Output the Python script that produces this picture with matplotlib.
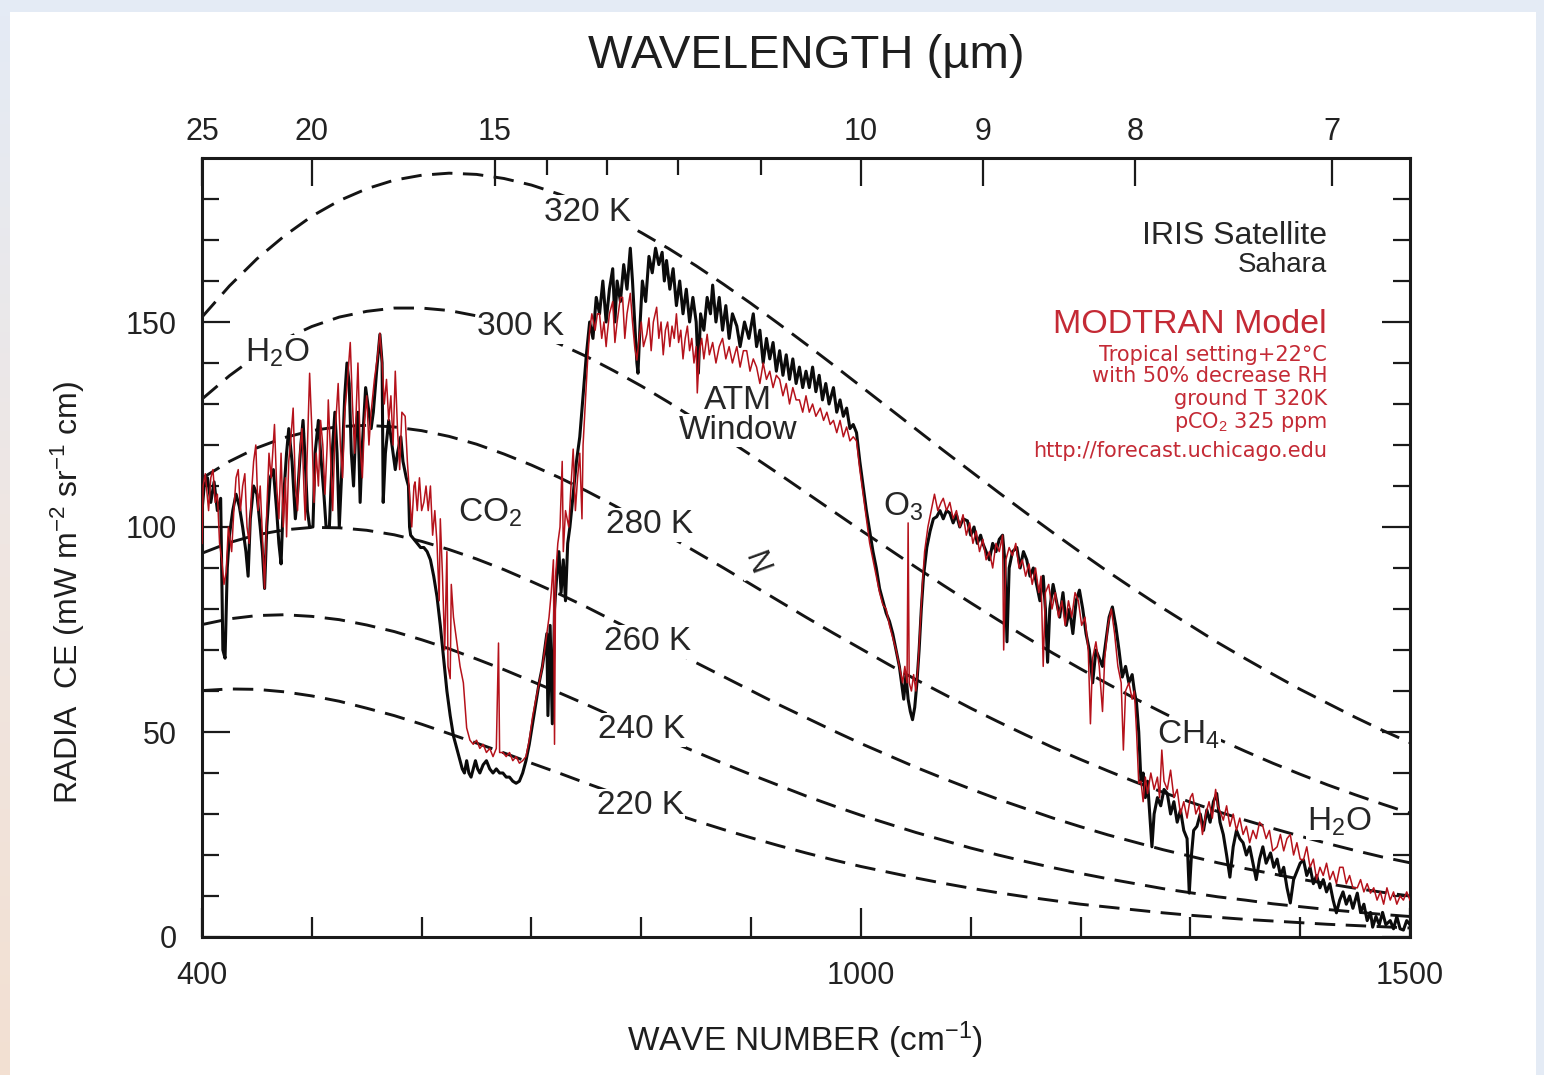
import numpy as np
import matplotlib
matplotlib.use('Agg')
import matplotlib.pyplot as plt
from matplotlib.patches import Rectangle
from matplotlib.colors import LinearSegmentedColormap

plt.rcParams['font.family'] = ['Liberation Sans', 'DejaVu Sans']
plt.rcParams['mathtext.fontset'] = 'custom'
plt.rcParams['mathtext.rm'] = 'Liberation Sans'
plt.rcParams['mathtext.it'] = 'Liberation Sans:italic'
plt.rcParams['mathtext.bf'] = 'Liberation Sans:bold'

# ---------------- data ----------------
planck_wn = list(range(400, 1501, 25))
planck_220 = [60.1,60.5,60.4,59.8,58.8,57.5,55.8,54.0,51.9,49.6,47.3,44.9,42.4,40.0,37.5,35.1,32.8,30.5,28.3,26.2,24.2,22.3,20.5,18.8,17.2,15.8,14.4,13.1,11.9,10.8,9.8,8.9,8.0,7.3,6.6,5.9,5.3,4.8,4.3,3.9,3.5,3.1,2.8,2.5,2.2]
planck_240 = [76.2,77.6,78.4,78.6,78.2,77.4,76.1,74.5,72.5,70.3,67.8,65.2,62.4,59.6,56.7,53.7,50.8,47.9,45.1,42.3,39.6,37.0,34.4,32.0,29.7,27.6,25.5,23.6,21.7,20.0,18.4,16.9,15.5,14.2,13.0,11.8,10.8,9.8,9.0,8.1,7.4,6.7,6.1,5.5,5.0]
planck_260 = [93.6,96.2,98.1,99.3,99.9,99.8,99.2,98.1,96.5,94.5,92.2,89.6,86.7,83.7,80.5,77.1,73.8,70.3,66.9,63.5,60.1,56.7,53.5,50.3,47.2,44.3,41.4,38.7,36.1,33.6,31.3,29.0,26.9,24.9,23.1,21.3,19.7,18.1,16.7,15.4,14.1,13.0,11.9,10.9,10.0]
planck_280 = [111.9,116.0,119.3,121.8,123.5,124.5,124.8,124.4,123.5,122.1,120.2,117.8,115.1,112.1,108.8,105.3,101.6,97.8,93.9,90.0,86.0,82.0,78.0,74.1,70.3,66.5,62.8,59.3,55.8,52.5,49.3,46.2,43.3,40.5,37.8,35.3,32.9,30.6,28.5,26.5,24.6,22.8,21.1,19.5,18.1]
planck_300 = [131.2,136.9,141.8,145.8,148.9,151.2,152.6,153.4,153.4,152.8,151.5,149.7,147.4,144.7,141.6,138.1,134.4,130.4,126.2,121.9,117.5,113.0,108.4,103.8,99.2,94.7,90.2,85.8,81.5,77.3,73.2,69.2,65.4,61.7,58.1,54.7,51.4,48.3,45.3,42.4,39.7,37.1,34.7,32.4,30.2]
planck_320 = [151.2,158.8,165.4,171.0,175.8,179.6,182.5,184.6,185.8,186.3,186.0,185.0,183.4,181.2,178.6,175.4,171.8,167.9,163.7,159.2,154.5,149.6,144.6,139.5,134.3,129.1,123.9,118.7,113.6,108.5,103.5,98.6,93.8,89.1,84.6,80.2,76.0,71.8,67.9,64.1,60.4,57.0,53.6,50.4,47.4]
temps = [220, 240, 260, 280, 300, 320]

iris_wn = [400,402,405,408,411,414,417,419,421,423,425,428,431,434,437,440,442,444,447,450,453,455,457,459,462,465,468,470,472,474,477,479,482,485,487,490,492,494,496,498,501,503,506,508,511,513,516,519,521,523,525,527,530,532,534,536,538,540,542,544,546,549,551,554,556,559,562,564,565,567,570,573,576,578,581,583,586,588,589,
           590,593,596,599,602,605,608,611,614,617,620,623,626,629,632,635,637,639,641,643,645,647,649,651,653,656,659,662,665,668,671,674,677,680,683,686,689,692,695,698,701,704,707,710,712,714,715,717,719,721,723,725,727,729,731,733,735,738,741,744,747,750,753,
           756,759,762,765,768,771,774,776,778,781,784,787,790,792,794,796,797,799,801,804,807,810,813,816,819,821,823,826,829,832,835,838,841,844,847,850,852,854,857,860,863,865,868,871,874,877,880,883,887,890,894,898,902,905,908,911,914,917,920,923,926,929,932,935,938,941,944,947,950,953,956,959,962,965,968,971,975,978,981,984,987,990,993,996,999,
           1002,1005,1008,1011,1014,1017,1020,1023,1026,1029,1032,1035,1037,1039,1041,1043,1045,1047,1049,1051,1053,1055,1057,1060,1063,1066,1069,1072,1075,1078,1081,1084,1087,1090,1093,1097,1100,1103,1106,1109,1111,1114,1117,1120,1123,1126,1129,1131,1133,1135,1138,1142,1145,1148,1151,1154,1157,1160,1163,1166,1168,1170,1172,1175,1178,1181,1184,1187,1190,1193,1196,1199,1202,1205,1208,1211,1214,1217,1220,1223,1226,1229,1232,1235,1238,1241,1244,1247,1249,1251,1253,1255,
           1257,1259,1261,1263,1265,1267,1270,1273,1276,1279,1282,1285,1288,1291,1294,1297,1299,1301,1303,1306,1309,1312,1315,1318,1321,1324,1327,1330,1333,1336,1339,1342,1345,1348,1351,1354,1357,1360,1363,1366,1369,1373,1376,1379,1382,1385,1388,1391,1394,1397,1400,1403,1406,1409,1412,1415,1418,1421,1424,1427,1430,1433,1436,1439,1442,1445,1448,1452,1455,1458,1461,1464,1466,1469,1472,1475,1478,1482,1485,1488,1491,1494,1497,1500]
iris_val = [104,110,112,106,111,104,107,70,68,90,98,104,108,105,100,94,88,102,110,108,100,94,85,100,112,114,104,96,91,106,118,124,116,102,108,120,126,116,104,100,100,118,126,118,108,100,100,120,128,118,100,112,132,140,135,118,110,124,128,106,120,134,130,124,128,138,147,140,106,118,126,120,114,118,122,116,112,110,100,
            98,97,96,95,95,94,92,88,83,76,68,60,54,49,46,43,41,40,43,40,39,41,43,41,40,42,43,41,40,41,40,40,39,39,38,37.5,38,40,43,47,52,57,62,66,70,74,54,76,52,80,88,94,84,92,82,96,100,108,116,122,132,142,150,
            146,156,152,160,150,158,163,150,160,155,164,158,168,160,150,140,137.5,150,160,155,166,162,168,164,167,160,165,158,163,154,160,152,158,150,156,150,137.5,152,148,156,152,159,150,156,148,154,146,152,149,144,150,146,152,144,148,140,146,141,145,138,143,137,142,136,141,135,139,134,138,134,139,133,137,131,135,130,134,128,131,127,129,124,125,123,116,
            110,104,99,94,90,85,82,79,77,74,70,66,62,58,64,58,55,53,56,62,70,80,88,95,99,102,102.5,104,102,104,103.4,101,103,100,102,101.5,98,100,96,98,96,94,92,96,94,97,98,92,72,90,94,95,90,94,92,88,90,86,82,88,80,67,80,86,82,78,84,76,80,74,82,84.6,80,74,70,62,70,68,66,72,78,80.5,76,70,63.4,66,62,64,60,57,50,38,
            40,34,38,30,22,30,34,32,36,35,30,33,28,31,26,24,10.7,20,26,27,30,26,31,28,33,35,28,25,20,14.6,22,26,24,23,20,22,18,14,19,22,18,20.5,17,19,15,17,12,8.3,14,16,18,18.8,15,17,13,15,12,14,11,13,9,5.9,9,11,8,10,7,10.7,6,8,4,6,2.4,5,3,6,3,4,2,5,2,1.7,4,3]

modtran_wn = [400,401,403,406,408,410,412,414,416,418,420,422,424,427,429,431,433,435,437,439,441,443,445,447,449,451,453,455,457,459,461,463,466,468,470,472,474,476,477,479,481,483,485,487,489,491,493,494,496,498,500,502,504,506,508,510,512,514,515,517,519,521,524,526,528,530,532,535,537,539,542,544,546,548,550,552,554,557,560,562,564,566,568,570,572,574,576,578,580,582,585,587,589,591,593,594,596,598,600,602,604,606,608,610,612,
              614,616,617,619,621,623,624,626,627,629,632,635,638,641,644,647,650,653,656,659,662,665,668,670,671,674,677,680,683,686,689,692,695,698,701,704,707,710,713,716,718,720,721,722,724,726,728,729,731,734,736,738,740,742,744,746,747,749,751,753,
              755,758,760,762,764,766,768,769,771,774,776,778,781,783,785,787,790,792,794,796,798,800,802,805,807,809,811,814,816,818,820,822,824,826,828,830,832,834,836,838,840,842,844,846,848,850,851,853,855,857,860,862,865,868,871,874,877,880,883,887,890,893,896,899,902,905,908,911,914,917,920,923,926,929,932,935,938,941,944,947,950,953,956,959,963,966,969,972,975,978,981,984,987,990,993,996,999,
              1002,1005,1008,1011,1014,1017,1020,1023,1026,1029,1032,1035,1038,1040,1042,1043,1044,1046,1048,1050,1052,1054,1056,1058,1061,1064,1067,1070,1073,1075,1078,1081,1084,1087,1090,1093,1096,1099,1102,1105,1108,1111,1114,1117,1120,1123,1126,1129,1130,1132,1135,1138,1141,1144,1147,1150,1153,1156,1159,1162,1164,1166,1168,1171,1174,1177,1180,1183,1186,1189,1192,1195,1198,1201,1204,1207,1209,1211,1214,1217,1220,1222,1225,1228,1231,1234,1237,1239,1241,1244,1247,1249,1251,1253,
              1255,1257,1259,1261,1264,1267,1270,1272,1274,1276,1279,1282,1285,1288,1291,1294,1297,1300,1302,1305,1308,1311,1314,1317,1320,1323,1325,1328,1330,1333,1336,1339,1342,1345,1348,1351,1354,1357,1360,1363,1366,1369,1372,1375,1379,1382,1385,1388,1391,1394,1397,1400,1403,1406,1409,1412,1415,1418,1421,1424,1427,1430,1433,1436,1439,1442,1445,1448,1452,1455,1458,1461,1464,1467,1470,1473,1476,1479,1482,1485,1488,1491,1494,1497,1500]
modtran_val = [96,110,113,104,112,114,106,108,96,92,86,89,100,94,104,112,114,104,110,113,100,96,108,116,120,104,110,98,85,104,118,112,125,110,102,118,100,112,97.6,116,122,129,110,104,118,124,108,101.7,120,137.5,124,106,118,110,126,120,108,120,131,118,104,122,135,120,112,128,134,145,130,118,140,120,112,126,132,120,128,136,142,147.3,140,130,136,126,132,120,138,124,114,128,127,116,108,100,110,111,104,112,104,106,110,104,110,98,104,
               96,82,102,88,70,94,66,63,86,78,72,66,62,51,48,47,48,46,47,45,46,44,46,71.7,45,45,44,45,43,44,42.4,43,44,48,53.7,58,62,66,72,78,84,92,47,88,96,100,116,94,104,100,110,119,104,112,118,102,120,130,140,148,
               152,148,152,152,146,150,144,147,152,155,145,150,156,156,146,152,157,150,144,140.7,146,150,144,147,151,143,150,153.6,146,150,142,148,150,144,149,146,152,145,148,141,146,149,143,146,140,144,132.7,143,146,141,147,142,145,140,144,146,141,144,140,144,139,143,143,138,141,139,135,140,136,138,134,137,136,132,135,130,134,131,131,128,132,128,130,127,129,126,128,125,126,123,126,122,124.4,121,122,121,114,
               108,102,96,92,88,84,81,80,76,73,70,66,62,66,62,101,62,60,64,60,66,76,86,94,100,104,108,104,106,107,104,106,102,104,100,103,98,101,96,99,94,97,92,94,90,96,94,98,70,92,95,93,96,90,92,88,91,86,90,84,88,66,84,86,80,84,78,82,76,82,78,84,82,76,78,70,52,68,72,66,55,68,76,80,74,66,62,45.6,60,62,58,60,50,37.5,
               38,33,39,35,40,36,39,34,45.6,38,36,40.7,34,36,30,33,29,34,35,30,32,25,30,33,29,36,32,30,28.5,32,27,30,26,29,25,27,23,26,24,28,27,24,26,21,22,25,21,24,25,20,23,19,18.8,22,17,19,14,17,15,18,14,16,13,17,17,13,15,12,12,14,11,13,10.7,12,9,11,8,12,9,11,8,10,9,11,9]

wl_major = [25, 20, 15, 10, 9, 8, 7]
wl_minor = [14, 13, 12, 11]
wn_major = [400, 1000, 1500]
wn_minor = [500, 600, 700, 800, 900, 1100, 1200, 1300, 1400]
y_major = [0, 50, 100, 150]
y_minor = [10, 20, 30, 40, 60, 70, 80, 90, 110, 120, 130, 140, 160, 170, 180]

# ---------------- figure ----------------
W, H = 1544, 1075
fig = plt.figure(figsize=(W / 100, H / 100), dpi=100, facecolor='#e4ebf5')
fig.patches.append(Rectangle((10 / W, 0), (W - 18) / W, (H - 12) / H, transform=fig.transFigure,
                             facecolor='white', edgecolor='none', zorder=-10))
gax = fig.add_axes([0, 0, 10 / W, (H - 12) / H], zorder=-5)
gax.axis('off')
cmap = LinearSegmentedColormap.from_list('g', ['#f3e0d2', '#efe6e2', '#e4ebf5'])
gax.imshow(np.linspace(0, 1, 256)[:, None], aspect='auto', cmap=cmap, origin='lower')

ax = fig.add_axes([202 / W, 1 - 937 / H, (1410 - 202) / W, (937 - 158) / H], zorder=1)
ax.set_xlim(400, 1500)
ax.set_ylim(0, 190)
ax.set_facecolor('white')

planck = {220: planck_220, 240: planck_240, 260: planck_260, 280: planck_280, 300: planck_300, 320: planck_320}
for T in temps:
    ax.plot(planck_wn, planck[T], color='#141414', lw=2.1, dashes=(7, 3.6), zorder=2)

ax.plot(iris_wn, iris_val, color='#0b0b0b', lw=2.2, zorder=3)
ax.plot(modtran_wn, modtran_val, color='#b5121b', lw=1.1, zorder=4)

# ticks
for s in ax.spines.values():
    s.set_linewidth(2.2)
    s.set_color('#1a1a1a')
ax.set_xticks(wn_major)
ax.set_xticklabels([str(v) for v in wn_major])
ax.set_xticks(wn_minor, minor=True)
ax.set_yticks(y_major)
ax.set_yticklabels([str(v) for v in y_major])
ax.set_yticks(y_minor, minor=True)
ax.tick_params(which='both', direction='in', right=True, top=False, width=1.6, color='#1a1a1a',
               labelsize=22, labelcolor='#222222')
ax.tick_params(axis='x', which='major', length=21, pad=17)
ax.tick_params(axis='x', which='minor', length=14.5)
ax.tick_params(axis='y', which='major', length=20, pad=18)
ax.tick_params(axis='y', which='minor', length=12.5)

ax2 = ax.twiny()
ax2.set_xlim(400, 1500)
ax2.set_xticks([1e4 / l for l in wl_major])
ax2.set_xticklabels([str(l) for l in wl_major])
ax2.set_xticks([1e4 / l for l in wl_minor], minor=True)
ax2.tick_params(which='both', direction='in', width=1.6, color='#1a1a1a', labelsize=22,
                labelcolor='#222222', pad=8)
ax2.tick_params(which='major', length=20)
ax2.tick_params(which='minor', length=12.5)
for s in ax2.spines.values():
    s.set_visible(False)

# labels (white boxes break the dashed curves, but sit below the spectra)
tc = '#262626'
bb = dict(facecolor='white', edgecolor='none', pad=1.0)
lz = 2.5
temp_label_pos = {320: (751, 176.8), 300: (690, 148.8), 280: (808, 100.5),
                  260: (806, 72), 240: (800, 50.5), 220: (799, 32)}
for T, (x, y) in temp_label_pos.items():
    ax.text(x, y, f'{T} K', fontsize=24, color=tc, ha='center', va='center', bbox=bb, zorder=lz)

ax.text(469, 142.5, 'H$_2$O', fontsize=24, color=tc, ha='center', va='center', bbox=bb, zorder=lz)
ax.text(662, 103.4, 'CO$_2$', fontsize=24, color=tc, ha='center', va='center', bbox=bb, zorder=lz)
ax.text(888, 130.8, 'ATM', fontsize=24, color=tc, ha='center', va='center', bbox=bb, zorder=lz)
ax.text(888, 123.5, 'Window', fontsize=24, color=tc, ha='center', va='center', bbox=bb, zorder=lz)
ax.text(904, 91, 'N', fontsize=22, color=tc, ha='center', va='center', rotation=-70, bbox=bb, zorder=lz)
ax.text(1038, 105, 'O$_3$', fontsize=24, color=tc, ha='center', va='center', zorder=lz)
ax.text(1298, 49.3, 'CH$_4$', fontsize=24, color=tc, ha='center', va='center', bbox=bb, zorder=lz)
ax.text(1436, 28, 'H$_2$O', fontsize=24, color=tc, ha='center', va='center', bbox=bb, zorder=lz)

ax.text(1424.5, 171, 'IRIS Satellite', fontsize=23, color=tc, ha='right', va='center', zorder=5)
ax.text(1424.5, 164, 'Sahara', fontsize=20, color=tc, ha='right', va='center', zorder=5)
rc = '#c42a35'
ax.text(1424.5, 149.3, 'MODTRAN Model', fontsize=24.5, color=rc, ha='right', va='center', zorder=5)
small = ['Tropical setting+22°C', 'with 50% decrease RH', 'ground T 320K', 'pCO$_2$ 325 ppm',
         'http://forecast.uchicago.edu']
small_y = [142.0, 136.8, 131.3, 125.7, 118.6]
for s, y in zip(small, small_y):
    ax.text(1424.5, y, s, fontsize=15, family=['DejaVu Sans'], color=rc, ha='right', va='center', zorder=5)

fig.text(806 / W, 1 - 56 / H, 'WAVELENGTH (µm)', fontsize=34, color='#1e1e1e', ha='center', va='center')
fig.text(805 / W, 1 - 1040 / H, 'WAVE NUMBER (cm$^{-1}$)', fontsize=24, color='#1e1e1e', ha='center', va='center')
fig.text(68 / W, 1 - 592 / H, 'RADIA  CE (mW m$^{-2}$ sr$^{-1}$ cm)', fontsize=23, color='#1e1e1e',
         ha='center', va='center', rotation=90)

fig.savefig('out.png', dpi=100, facecolor=fig.get_facecolor())
